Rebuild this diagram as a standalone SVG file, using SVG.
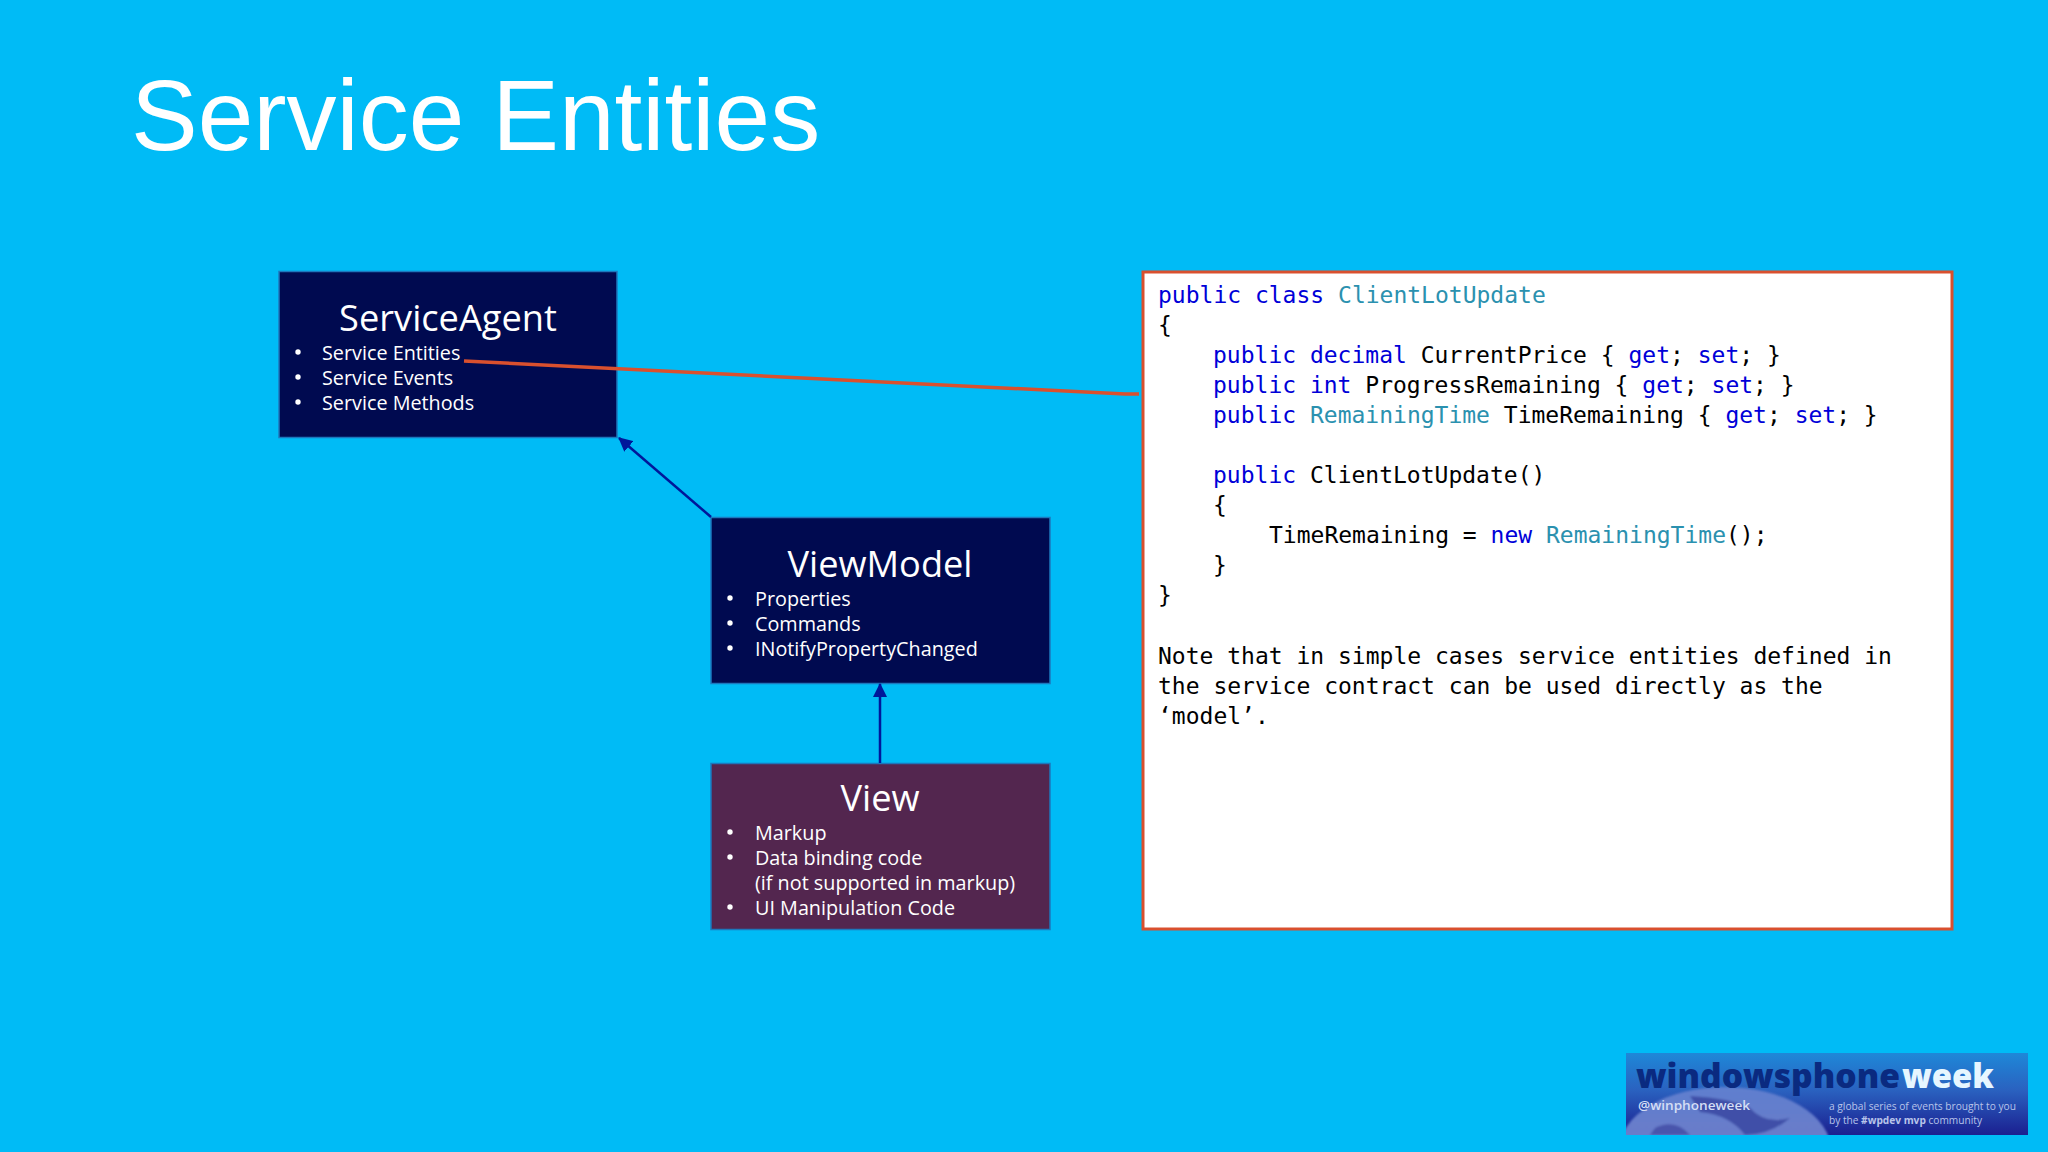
<svg xmlns="http://www.w3.org/2000/svg" width="2048" height="1152" viewBox="0 0 2048 1152">
<style>
.title{font-family:"Liberation Sans",Arial,sans-serif;font-size:100px;fill:#fff}
.h{font-family:"Open Sans","Noto Sans",sans-serif;font-size:36.200px;fill:#fff;text-anchor:middle}
.b{font-family:"Open Sans","Noto Sans",sans-serif;font-size:19.800px;fill:#fff}
.box{stroke:#1c78bd;stroke-width:1.500}
.c{font-family:"DejaVu Sans Mono","Liberation Mono",monospace;font-size:23px;fill:#000}
.k{fill:#0000d8}
.t{fill:#2b91af}
.conn{fill:none;stroke:#00179a;stroke-width:2.500}
.lg{font-family:"Open Sans",sans-serif}
</style>
<defs>
<marker id="arrow" viewBox="0 0 14 14" refX="13" refY="7" markerWidth="14" markerHeight="14" markerUnits="userSpaceOnUse" orient="auto"><path d="M0 0L14 7L0 14z" fill="#00179a"/></marker>
<linearGradient id="lg" x1="0" y1="0" x2="0" y2="1"><stop offset="0" stop-color="#1e88d8"/><stop offset=".45" stop-color="#2a62c0"/><stop offset="1" stop-color="#1b1f90"/></linearGradient>
<linearGradient id="gg" x1="0" y1="0" x2="0" y2="1"><stop offset="0" stop-color="#5f7fcf"/><stop offset="1" stop-color="#7a78c0"/></linearGradient>
<clipPath id="lc"><rect x="1626" y="1053" width="402" height="82"/></clipPath>
<filter id="soft" x="-5%" y="-5%" width="110%" height="110%"><feGaussianBlur stdDeviation="1"/></filter>
</defs>
<rect width="2048" height="1152" fill="#00bbf6"/>
<text class="title" x="131" y="150">Service Entities</text>

<g id="service-agent">
<rect class="box" x="279" y="271.500" width="338" height="166" fill="#000a50"/>
<text class="h" x="448" y="331">ServiceAgent</text>
<circle cx="298" cy="352" r="2.700" fill="#fff"/><circle cx="298" cy="377" r="2.700" fill="#fff"/><circle cx="298" cy="402" r="2.700" fill="#fff"/>
<text class="b" x="322" y="360">Service Entities</text>
<text class="b" x="322" y="385">Service Events</text>
<text class="b" x="322" y="410">Service Methods</text>
</g>

<g id="view-model">
<rect class="box" x="711" y="517.500" width="339" height="166" fill="#000a50"/>
<text class="h" x="880" y="577">ViewModel</text>
<circle cx="730" cy="598" r="2.700" fill="#fff"/><circle cx="730" cy="623" r="2.700" fill="#fff"/><circle cx="730" cy="648" r="2.700" fill="#fff"/>
<text class="b" x="755" y="606">Properties</text>
<text class="b" x="755" y="631">Commands</text>
<text class="b" x="755" y="656">INotifyPropertyChanged</text>
</g>

<g id="view">
<rect class="box" x="711" y="763.500" width="339" height="166" fill="#53264f"/>
<text class="h" x="880" y="811">View</text>
<circle cx="730" cy="832" r="2.700" fill="#fff"/><circle cx="730" cy="857" r="2.700" fill="#fff"/><circle cx="730" cy="907" r="2.700" fill="#fff"/>
<text class="b" x="755" y="840">Markup</text>
<text class="b" x="755" y="865">Data binding code</text>
<text class="b" x="755" y="890">(if not supported in markup)</text>
<text class="b" x="755" y="915">UI Manipulation Code</text>
</g>

<g id="code-panel">
<rect x="1143" y="272" width="809" height="657" fill="#fff" stroke="#d9502e" stroke-width="3"/>
<text class="c" x="1158" y="303"><tspan class="k">public class</tspan> <tspan class="t">ClientLotUpdate</tspan></text>
<text class="c" x="1158" y="333">{</text>
<text class="c" x="1213" y="363"><tspan class="k">public decimal</tspan> CurrentPrice { <tspan class="k">get</tspan>; <tspan class="k">set</tspan>; }</text>
<text class="c" x="1213" y="393"><tspan class="k">public int</tspan> ProgressRemaining { <tspan class="k">get</tspan>; <tspan class="k">set</tspan>; }</text>
<text class="c" x="1213" y="423"><tspan class="k">public</tspan> <tspan class="t">RemainingTime</tspan> TimeRemaining { <tspan class="k">get</tspan>; <tspan class="k">set</tspan>; }</text>
<text class="c" x="1213" y="483"><tspan class="k">public</tspan> ClientLotUpdate()</text>
<text class="c" x="1213" y="513">{</text>
<text class="c" x="1269" y="543">TimeRemaining = <tspan class="k">new</tspan> <tspan class="t">RemainingTime</tspan>();</text>
<text class="c" x="1213" y="573">}</text>
<text class="c" x="1158" y="603">}</text>
<text class="c" x="1158" y="664">Note that in simple cases service entities defined in</text>
<text class="c" x="1158" y="694">the service contract can be used directly as the</text>
<text class="c" x="1158" y="724">‘model’.</text>
</g>

<g id="connectors">
<path class="conn" d="M711 517L619 438" marker-end="url(#arrow)"/>
<path class="conn" d="M880 763V684" marker-end="url(#arrow)"/>
<path d="M464 361L1125 394H1139" fill="none" stroke="#d9502e" stroke-width="3.500"/>
</g>

<g id="logo">
<rect x="1626" y="1053" width="402" height="82" fill="url(#lg)"/>
<g clip-path="url(#lc)"><g filter="url(#soft)">
<ellipse cx="1725" cy="1150" rx="106" ry="63" fill="url(#gg)"/>
<path d="M1690 1096Q1730 1098 1750 1108Q1765 1125 1790 1118Q1770 1135 1745 1135Q1730 1115 1700 1112Z" fill="#3f4fa8"/>
<path d="M1655 1128Q1675 1118 1690 1135H1650Z" fill="#4a55ac"/>
</g></g>
<text class="lg" x="1636" y="1088" font-weight="800" font-size="34" fill="#0a2a80" textLength="264" lengthAdjust="spacingAndGlyphs">windowsphone</text>
<text class="lg" x="1902" y="1088" font-weight="800" font-size="34" fill="#e6f6ff" textLength="92" lengthAdjust="spacingAndGlyphs">week</text>
<text class="lg" x="1638" y="1110" font-size="12" font-weight="600" fill="#d5def5" textLength="112" lengthAdjust="spacingAndGlyphs">@winphoneweek</text>
<text class="lg" x="1829" y="1110" font-size="10" fill="#b8c4ea" textLength="187" lengthAdjust="spacingAndGlyphs">a global series of events brought to you</text>
<text class="lg" x="1829" y="1124" font-size="10" fill="#b8c4ea" textLength="153" lengthAdjust="spacingAndGlyphs">by the <tspan font-weight="700">#wpdev mvp</tspan> community</text>
</g>
</svg>
